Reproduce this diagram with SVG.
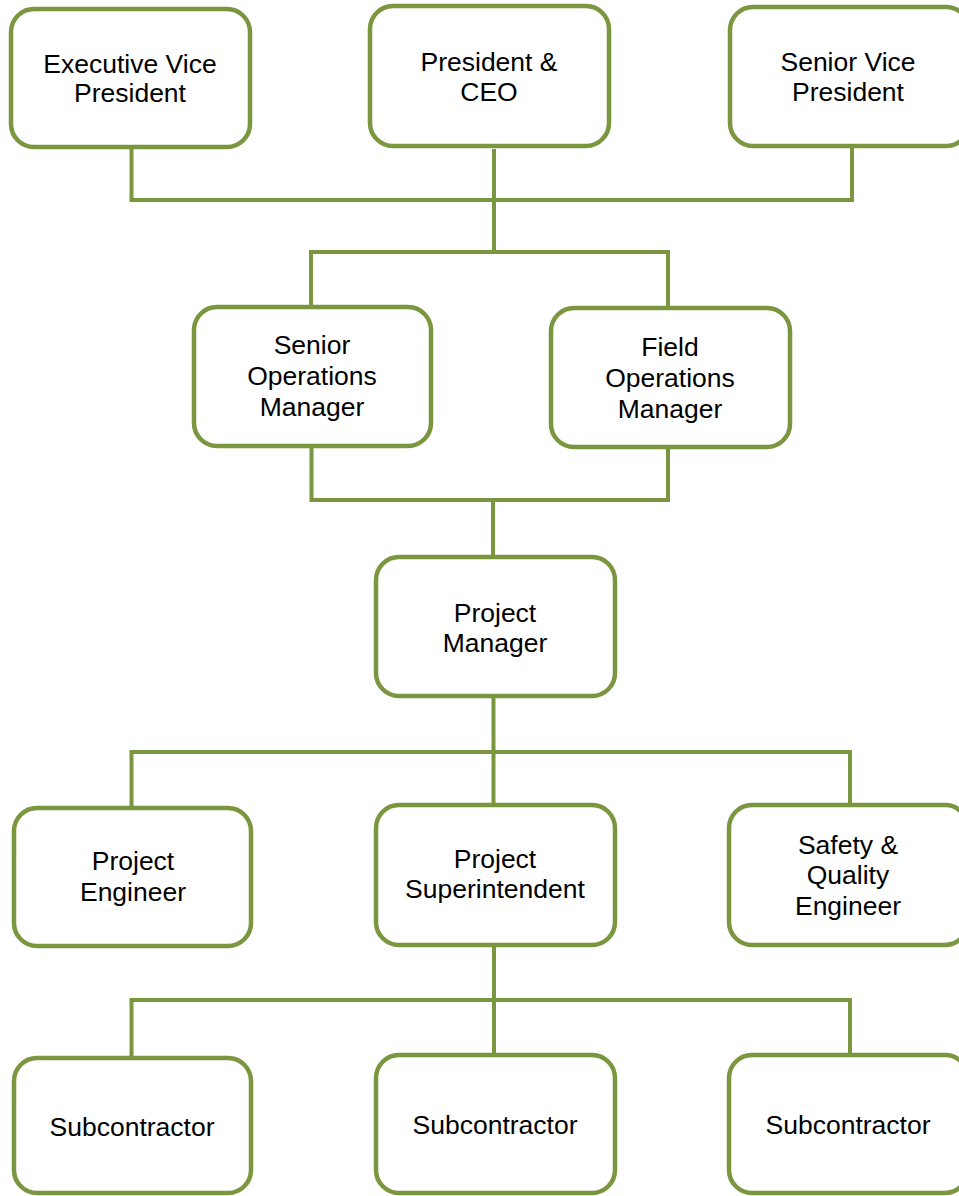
<svg xmlns="http://www.w3.org/2000/svg" width="959" height="1196" viewBox="0 0 959 1196">
<style>
.box{fill:#FFFFFF;stroke:#7A963E;stroke-width:4.5}
.ln{fill:none;stroke:#7A963E;stroke-width:4;stroke-linejoin:miter;stroke-linecap:square}
text{font-family:"Liberation Sans",Arial,sans-serif;font-size:26.5px;fill:#000000;text-anchor:middle}
</style>
<rect width="959" height="1196" fill="#FFFFFF"/>
<g id="connectors">
<polyline class="ln" points="131.5,151 131.5,200 852,200 852,150"/>
<line class="ln" x1="494" y1="151" x2="494" y2="252"/>
<polyline class="ln" points="311,305 311,252 668,252 668,306"/>
<polyline class="ln" points="311.5,450 311.5,500 668,500 668,451"/>
<line class="ln" x1="493" y1="500" x2="493" y2="555"/>
<line class="ln" x1="493.5" y1="700" x2="493.5" y2="803"/>
<polyline class="ln" points="131.5,806 131.5,752 850,752 850,803"/>
<line class="ln" x1="494" y1="949" x2="494" y2="1053"/>
<polyline class="ln" points="131.5,1056 131.5,1000 850,1000 850,1053"/>
</g>
<g id="evp"><rect class="box" x="11" y="9" width="239" height="138" rx="23"/><text x="130" y="73">Executive Vice</text><text x="130" y="102">President</text></g>
<g id="president"><rect class="box" x="370" y="6" width="239" height="140" rx="23"/><text x="489" y="71">President &amp;</text><text x="489" y="101">CEO</text></g>
<g id="svp"><rect class="box" x="730" y="7" width="239" height="139" rx="23"/><text x="848" y="71">Senior Vice</text><text x="848" y="101">President</text></g>
<g id="som"><rect class="box" x="194" y="307" width="237" height="139" rx="23"/><text x="312" y="354">Senior</text><text x="312" y="385">Operations</text><text x="312" y="416">Manager</text></g>
<g id="fom"><rect class="box" x="551" y="308" width="239" height="139" rx="23"/><text x="670" y="356">Field</text><text x="670" y="387">Operations</text><text x="670" y="418">Manager</text></g>
<g id="pm"><rect class="box" x="376" y="557" width="239" height="139" rx="23"/><text x="495" y="622">Project</text><text x="495" y="652">Manager</text></g>
<g id="pe"><rect class="box" x="14" y="808" width="237" height="138" rx="23"/><text x="133" y="870">Project</text><text x="133" y="901">Engineer</text></g>
<g id="ps"><rect class="box" x="376" y="805" width="239" height="140" rx="23"/><text x="495" y="868">Project</text><text x="495" y="898">Superintendent</text></g>
<g id="sqe"><rect class="box" x="729" y="805" width="239" height="140" rx="23"/><text x="848" y="854">Safety &amp;</text><text x="848" y="884">Quality</text><text x="848" y="915">Engineer</text></g>
<g id="sub1"><rect class="box" x="14" y="1058" width="237" height="135" rx="23"/><text x="132" y="1136">Subcontractor</text></g>
<g id="sub2"><rect class="box" x="376" y="1055" width="239" height="138" rx="23"/><text x="495" y="1134">Subcontractor</text></g>
<g id="sub3"><rect class="box" x="729" y="1055" width="239" height="138" rx="23"/><text x="848" y="1134">Subcontractor</text></g>
</svg>
